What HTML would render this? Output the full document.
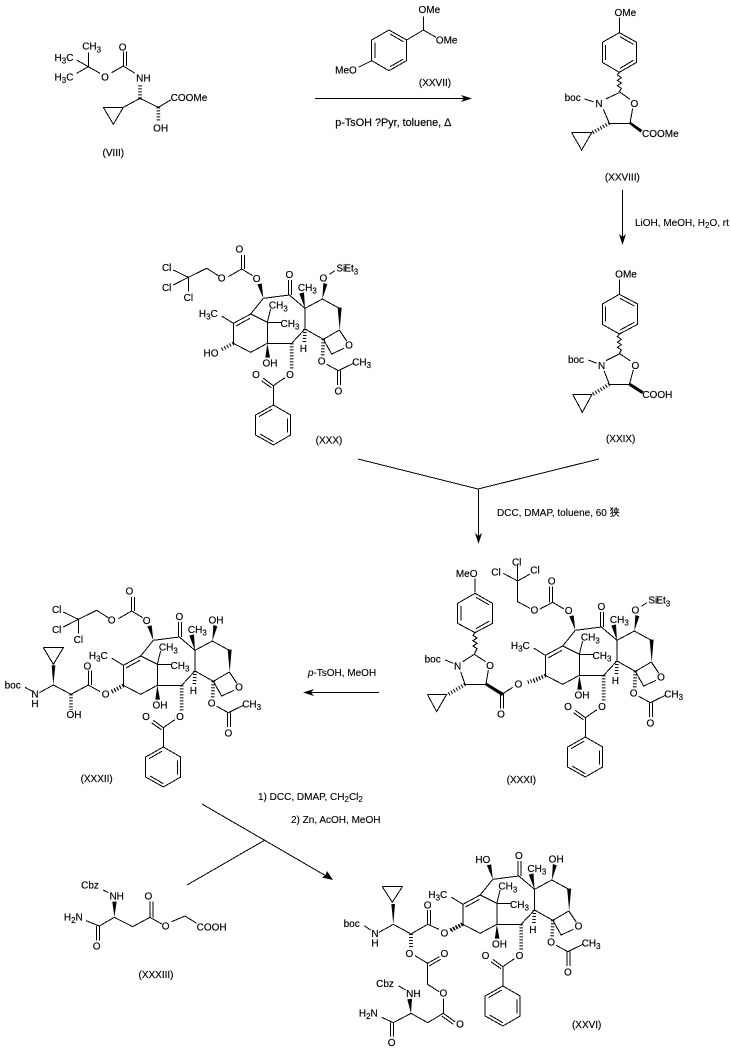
<!DOCTYPE html>
<html><head><meta charset="utf-8"><title>Synthesis scheme</title>
<style>
html,body{margin:0;padding:0;background:#fff}
svg{display:block}
text{font-family:"Liberation Sans","Noto Sans CJK SC",sans-serif;fill:#000;stroke:#000;stroke-width:.12px}
.f text{font-size:30px;text-anchor:middle;stroke-width:.5px}
.f text.s{text-anchor:start}
.b{fill:none;stroke:#000;stroke-width:3;shape-rendering:crispEdges}
.h{fill:none;stroke:#000;stroke-width:11;stroke-dasharray:3 6}
.w{fill:#000;stroke:none}
.a{stroke:#000;stroke-width:1;fill:none;shape-rendering:crispEdges}
.r{font-size:10px}
</style></head><body>
<svg xmlns="http://www.w3.org/2000/svg" width="731" height="1055" viewBox="0 0 731 1055">
<defs>
<g id="core">
<path class="b" d="M340 190L418 180L465 220L517 192L568 220M568 285L520 313L465 282L465 220M465 282L425 325L352 325L352 262L302 237L340 190M302 237L250 265L250 325L302 352L352 325M352 262L362 222M352 262L395 262M250 265L215 243M258 273L300 250M415 180L415 135M424 180L424 135M568 285L590 318M582 340L545 357L520 313M425 405M405 428L370 452L370 510L422 540L422 600L370 630L317 600L317 540L370 510M370 452L340 430M364 458L334 437M327 545L367 522M412 550L412 592M330 597L370 620M530 388L565 407L610 385M562 407L562 450M571 407L571 450"/>
<path class="h" d="M425 325L425 402M465 282L463 325M520 313L518 362M250 325L212 345"/>
<polygon class="w" points="465,220 448,176 462,172"/>
<polygon class="w" points="352,325 346,368 360,368"/>
<polygon class="w" points="563,218 575,218 569,285"/>
<polygon class="w" points="340,190 322,148 335,145"/>
<polygon class="w" points="517,192 520,144 532,148"/>
</g>
<path id="carb" class="b" d="M308 122L275 102L275 60M284 102L284 60M275 102L235 125M205 122L170 100L115 127L70 105M115 127L70 150M115 127L115 170"/>
</defs>

<rect width="731" height="1055" fill="#fff"/>

<!-- VIII -->
<g class="f" transform="translate(40,30) scale(.33333)">
<path class="b" d="M145 110L145 68M145 110L110 90M145 110L110 130M145 110L180 130M215 128L250 108L250 65M259 108L259 65M250 108L285 130M300 205L355 232L392 210M300 205L250 232L190 232L220 283L250 232"/>
<path class="h" d="M300 205L300 160M355 232L355 275"/>
<text x="155" y="59">CH<tspan dy="8" font-size="24">3</tspan></text>
<text x="72" y="93">H<tspan dy="8" font-size="24">3</tspan><tspan dy="-8">C</tspan></text>
<text x="72" y="151">H<tspan dy="8" font-size="24">3</tspan><tspan dy="-8">C</tspan></text>
<text x="195" y="151">O</text><text x="248" y="61">O</text>
<text x="310" y="154">NH</text><text x="447" y="213">COOMe</text><text x="362" y="304">OH</text>
<text x="220" y="378">(VIII)</text>
</g>

<!-- XXVII reagent -->
<g class="f" transform="translate(310,20) scale(.33333)">
<path class="b" d="M237 30L290 60L290 122L237 152L185 122L185 60L237 30M195 68L195 114M240 42L280 65M240 140L280 117M290 60L340 30L378 52M340 30L340 -10M185 122L145 142"/>
<text x="358" y="-21">OMe</text><text x="410" y="71">OMe</text><text x="108" y="161">MeO</text>
<text x="375" y="198">(XXVII)</text>
<text x="250" y="318" font-size="32.5" style="font-size:32.5px">p-TsOH ?Pyr, toluene, Δ</text>
</g>
<path class="a" d="M315 98.5H465"/>
<polygon points="472,98.5 461,95 464,98.5 461,102"/>

<!-- XXVIII -->
<g class="f" transform="translate(540,0) scale(.33333)">
<path class="b" d="M238 52L238 98L290 127L290 187L238 217L187 187L187 127L238 98M197 135L197 180M240 110L280 133M240 205L280 181M238 217L232 225L244 233L232 241L244 249L232 257L244 265L238 275L270 298M278 325L270 370L208 370L190 328M197 297L238 278M133 297L160 305M95 398L155 398L125 450L95 398"/>
<path class="h" d="M208 370L157 398"/>
<polygon class="w" points="268,372 272,366 307,390 302,398"/>
<text x="256" y="48">OMe</text><text x="98" y="303">boc</text><text x="177" y="321">N</text><text x="283" y="321">O</text>
<text x="361" y="411">COOMe</text><text x="247" y="541">(XXVIII)</text>
</g>

<!-- LiOH arrow -->
<path class="a" d="M622.5 190V238"/>
<polygon points="622.5,245 619,234 622.5,237 626,234"/>
<text class="r" x="635" y="226">LiOH, MeOH, H<tspan dy="2" font-size="8">2</tspan><tspan dy="-2">O, rt</tspan></text>

<!-- XXIX -->
<g class="f" transform="translate(550,260) scale(.33333)">
<path class="b" d="M208 58L208 103L263 132L263 193L208 222L157 193L157 132L208 103M167 140L167 185M210 115L253 138M210 210L253 187M208 222L202 230L214 238L202 246L214 254L202 262L214 270L208 280L240 302M250 330L238 373L178 373L162 332M168 302L208 282M115 300L140 310M68 403L126 403L97 457L68 403"/>
<path class="h" d="M178 373L128 403"/>
<polygon class="w" points="236,376 241,369 281,394 276,402"/>
<text x="228" y="53">OMe</text><text x="78" y="309">boc</text><text x="155" y="327">N</text><text x="256" y="327">O</text>
<text x="322" y="414">COOH</text><text x="212" y="546">(XXIX)</text>
</g>

<!-- XXX -->
<g class="f" transform="translate(150,235) scale(.33333)">
<use href="#core"/><use href="#carb"/>
<text x="418" y="129">O</text><text x="472" y="168">CH<tspan dy="8" font-size="24">3</tspan></text>
<text x="385" y="221">CH<tspan dy="8" font-size="24">3</tspan></text><text x="420" y="276">CH<tspan dy="8" font-size="24">3</tspan></text>
<text x="175" y="246">H<tspan dy="8" font-size="24">3</tspan><tspan dy="-8">C</tspan></text>
<text x="360" y="394">OH</text><text x="420" y="429">O</text><text x="318" y="429">O</text><text x="460" y="351">H</text>
<text x="515" y="388">O</text><text x="635" y="391">CH<tspan dy="8" font-size="24">3</tspan></text><text x="565" y="478">O</text><text x="597" y="341">O</text>
<text x="320" y="141">O</text><text x="268" y="53">O</text><text x="215" y="139">O</text>
<text x="50" y="108">Cl</text><text x="50" y="168">Cl</text><text x="115" y="198">Cl</text>
<text x="183" y="364">HO</text><text x="520" y="139">O</text>
<path class="b" d="M538 118L555 107"/>
<text class="s" x="559" y="110">Si</text><text class="s" x="583" y="110">Et<tspan dy="8" font-size="24">3</tspan></text>
<text x="537" y="626">(XXX)</text>
</g>

<!-- convergence -->
<path class="a" d="M358 459L478 489L599 459M478.5 489V537"/>
<polygon points="478.5,544 475,533 478.5,536 482,533"/>
<text class="r" x="497" y="516">DCC, DMAP, toluene, 60 狭</text>

<!-- XXXI -->
<g class="f" transform="translate(462,567) scale(.33333)">
<use href="#core"/>
<text x="418" y="129">O</text><text x="472" y="168">CH<tspan dy="8" font-size="24">3</tspan></text>
<text x="385" y="221">CH<tspan dy="8" font-size="24">3</tspan></text><text x="420" y="276">CH<tspan dy="8" font-size="24">3</tspan></text>
<text x="175" y="246">H<tspan dy="8" font-size="24">3</tspan><tspan dy="-8">C</tspan></text>
<text x="360" y="394">OH</text><text x="420" y="429">O</text><text x="318" y="429">O</text><text x="460" y="351">H</text>
<text x="515" y="388">O</text><text x="635" y="391">CH<tspan dy="8" font-size="24">3</tspan></text><text x="565" y="478">O</text><text x="597" y="341">O</text>
<text x="320" y="141">O</text><text x="520" y="139">O</text>
<path class="b" d="M538 118L555 107"/>
<text class="s" x="559" y="110">Si</text><text class="s" x="583" y="110">Et<tspan dy="8" font-size="24">3</tspan></text>
</g>
<g class="f" transform="translate(420,560) scale(.33333)">
<path class="h" d="M377 347L320 368"/>
<path class="b" d="M278 382L250 400L250 445M241 400L241 445M165 100L218 130L218 190L165 218L113 190L113 130L165 100M123 138L123 182M168 112L208 135M168 206L208 183M165 98L165 55M165 218L159 226L171 234L159 242L171 250L159 258L171 266L163 283L197 305M205 330L198 373L135 373L122 335M128 305L163 283M75 300L100 310M22 403L80 403L50 455L22 403M432 147L398 127L358 148M398 127L398 80M389 127L389 80M330 145L293 125L293 63L250 40M293 63L330 42M293 63L293 15"/>
<path class="h" d="M135 373L85 403"/>
<polygon class="w" points="196,376 201,369 251,399 246,408"/>
<text x="295" y="383">O</text><text x="243" y="473">O</text><text x="140" y="51">MeO</text>
<text x="38" y="308">boc</text><text x="113" y="328">N</text><text x="210" y="327">O</text>
<text x="395" y="74">O</text><text x="343" y="161">O</text>
<text x="228" y="46">Cl</text><text x="345" y="41">Cl</text><text x="290" y="16">Cl</text>
<text x="304" y="669">(XXXI)</text>
</g>

<!-- left arrow -->
<text class="r" x="342" y="676" text-anchor="middle"><tspan font-style="italic">p</tspan>-TsOH, MeOH</text>
<path class="a" d="M379 692.5H310"/>
<polygon points="303,692.5 314,689 311,692.5 314,696"/>

<!-- XXXII -->
<g class="f" transform="translate(40,577) scale(.33333)">
<use href="#core"/><use href="#carb"/>
<text x="418" y="129">O</text><text x="472" y="168">CH<tspan dy="8" font-size="24">3</tspan></text>
<text x="385" y="221">CH<tspan dy="8" font-size="24">3</tspan></text><text x="420" y="276">CH<tspan dy="8" font-size="24">3</tspan></text>
<text x="175" y="246">H<tspan dy="8" font-size="24">3</tspan><tspan dy="-8">C</tspan></text>
<text x="360" y="394">OH</text><text x="420" y="429">O</text><text x="318" y="429">O</text><text x="460" y="351">H</text>
<text x="515" y="388">O</text><text x="635" y="391">CH<tspan dy="8" font-size="24">3</tspan></text><text x="565" y="478">O</text><text x="597" y="341">O</text>
<text x="320" y="141">O</text><text x="268" y="53">O</text><text x="215" y="139">O</text>
<text x="50" y="108">Cl</text><text x="50" y="168">Cl</text><text x="115" y="198">Cl</text>
<text x="528" y="139">OH</text>
</g>
<g class="f" transform="translate(0,580) scale(.33333)">
<path class="h" d="M370 317L332 338"/>
<path class="b" d="M300 335L265 315L265 272M274 315L274 272M265 315L213 343L160 315L118 338M75 322L95 333M130 203L190 203L160 253L130 203"/>
<path class="h" d="M213 343L213 390"/>
<polygon class="w" points="160,315 155,256 166,256"/>
<text x="317" y="353">O</text><text x="262" y="269">O</text><text x="222" y="414">OH</text>
<text x="38" y="326">boc</text><text x="105" y="353">N</text><text x="105" y="381">H</text>
<text x="290" y="606">(XXXII)</text>
</g>

<!-- final step -->
<text class="r" x="258" y="800">1) DCC, DMAP, CH<tspan dy="2" font-size="8">2</tspan><tspan dy="-2">Cl</tspan><tspan dy="2" font-size="8">2</tspan></text>
<text class="r" x="291" y="823">2) Zn, AcOH, MeOH</text>
<path class="a" d="M202 804L327 876.5M187 885L265 840"/>
<polygon points="333,880 322,877.5 325.5,875 327,871"/>

<!-- XXXIII -->
<g class="f" transform="translate(50,870) scale(.33333)">
<path class="b" d="M160 60L175 68M193 142L248 170L300 142L300 95M309 142L309 95M300 142L335 162M365 155L405 138L440 160M193 142L148 168L148 212M139 168L139 212M108 152L148 168"/>
<polygon class="w" points="193,142 187,95 200,95"/>
<text x="120" y="56">Cbz</text><text x="200" y="89">NH</text><text x="70" y="151">H<tspan dy="8" font-size="24">2</tspan><tspan dy="-8">N</tspan></text>
<text x="140" y="239">O</text><text x="295" y="89">O</text><text x="347" y="179">O</text><text x="485" y="181">COOH</text>
<text x="318" y="324">(XXXIII)</text>
</g>

<!-- XXVI -->
<g class="f" transform="translate(379.5,816) scale(.33333)">
<use href="#core"/>
<text x="418" y="129">O</text><text x="472" y="168">CH<tspan dy="8" font-size="24">3</tspan></text>
<text x="385" y="221">CH<tspan dy="8" font-size="24">3</tspan></text><text x="420" y="276">CH<tspan dy="8" font-size="24">3</tspan></text>
<text x="175" y="246">H<tspan dy="8" font-size="24">3</tspan><tspan dy="-8">C</tspan></text>
<text x="360" y="394">OH</text><text x="420" y="429">O</text><text x="318" y="429">O</text><text x="460" y="351">H</text>
<text x="515" y="388">O</text><text x="635" y="391">CH<tspan dy="8" font-size="24">3</tspan></text><text x="565" y="478">O</text><text x="597" y="341">O</text>
<text x="310" y="141">HO</text><text x="530" y="139">OH</text>
</g>
<g class="f" transform="translate(340,840) scale(.33333)">
<path class="h" d="M366 253L330 270"/>
<path class="b" d="M297 268L263 253L263 210M272 253L272 210M263 253L213 282L160 253L117 277M72 257L92 270M127 140L187 140L157 187L127 140M225 347L263 370L298 350M267 378L302 358M263 370L263 433L297 455M310 475L310 520L345 545M305 528L340 553M310 520L263 548L213 520L160 548L160 590M151 548L151 590M125 532L160 548M175 437L197 450"/>
<path class="h" d="M213 282L213 325"/>
<polygon class="w" points="160,253 154,192 165,192"/>
<polygon class="w" points="213,520 202,478 216,476"/>
<text x="313" y="289">O</text><text x="263" y="206">O</text><text x="35" y="261">boc</text><text x="105" y="291">N</text><text x="105" y="319">H</text>
<text x="208" y="351">O</text><text x="313" y="351">O</text><text x="310" y="469">O</text><text x="360" y="563">O</text>
<text x="135" y="441">Cbz</text><text x="220" y="471">NH</text><text x="85" y="529">H<tspan dy="8" font-size="24">2</tspan><tspan dy="-8">N</tspan></text>
<text x="155" y="618">O</text><text x="740" y="564">(XXVI)</text>
</g>
</svg>
</body></html>
